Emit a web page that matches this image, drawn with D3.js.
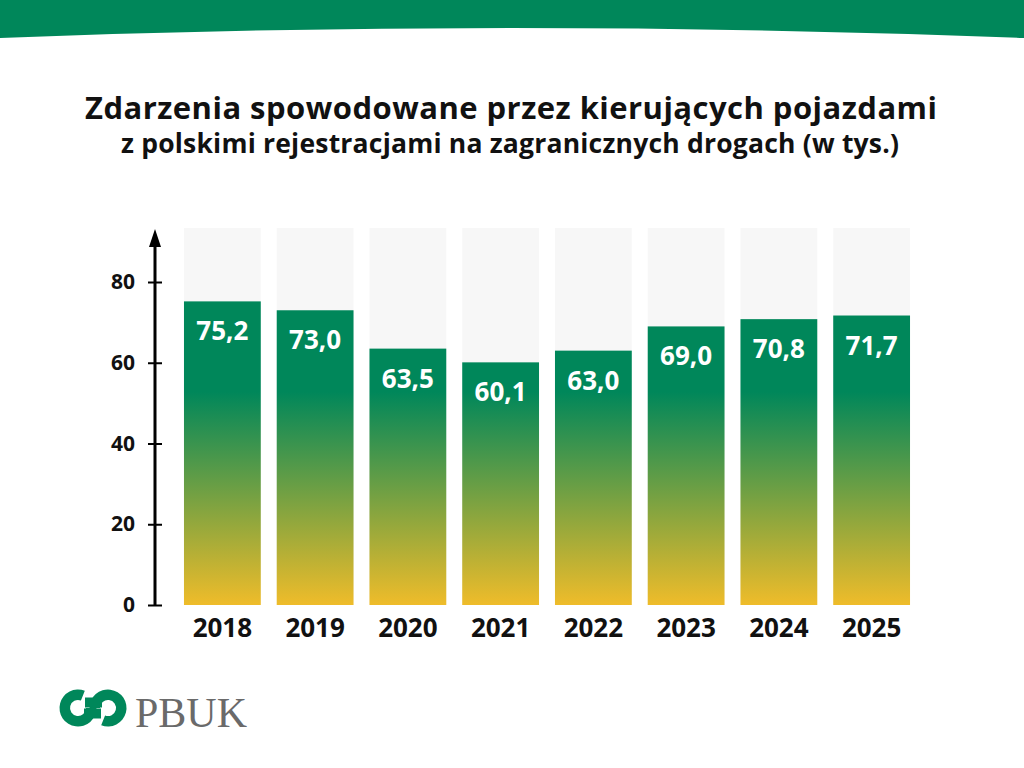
<!DOCTYPE html>
<html>
<head>
<meta charset="utf-8">
<script src="https://cdn.jsdelivr.net/npm/d3@7"></script>
<style>
  body { margin: 0; background: #fff; }
  svg { display: block; font-family: "Open Sans", sans-serif; }
</style>
</head>
<body>
<div id="chart"></div>
<script>
// Data
var years = ["2018", "2019", "2020", "2021", "2022", "2023", "2024", "2025"];
var values = [75.2, 73.0, 63.5, 60.1, 63.0, 69.0, 70.8, 71.7];
var yTicks = [0, 20, 40, 60, 80];
var title = "Zdarzenia spowodowane przez kierujących pojazdami";
var subtitle = "z polskimi rejestracjami na zagranicznych drogach (w tys.)";

var width = 1024, height = 768;
var green = "#00875a", yellow = "#efbc2a";

var svg = d3.select("#chart").append("svg")
    .attr("width", width)
    .attr("height", height);

// Gradient in page space so all bars share the same colour at the same height
var defs = svg.append("defs");
var grad = defs.append("linearGradient")
    .attr("id", "barGrad")
    .attr("gradientUnits", "userSpaceOnUse")
    .attr("x1", 0).attr("x2", 0)
    .attr("y1", 392).attr("y2", 605);
grad.append("stop").attr("offset", "0%").attr("stop-color", green);
grad.append("stop").attr("offset", "100%").attr("stop-color", yellow);

// Top banner with curved bottom edge
svg.append("path")
    .attr("d", "M0,0 H1024 V38 Q512,18 0,38 Z")
    .attr("fill", green);

// Titles
svg.append("text")
    .attr("x", 85).attr("y", 119)
    .attr("textLength", 852).attr("lengthAdjust", "spacing")
    .attr("font-size", 31).attr("font-weight", 700)
    .attr("fill", "#111")
    .text(title);

svg.append("text")
    .attr("x", 121).attr("y", 153)
    .attr("textLength", 778).attr("lengthAdjust", "spacing")
    .attr("font-size", 26.5).attr("font-weight", 700)
    .attr("fill", "#111")
    .text(subtitle);

// Scales
var x = d3.scaleBand()
    .domain(years)
    .range([176, 918])
    .paddingInner(0.172)
    .paddingOuter(0.086);

var y = d3.scaleLinear()
    .domain([0, 80])
    .range([605, 282]);

var bgTop = 93.4; // height of the pale background columns

var g = svg.append("g");

// Background columns
g.selectAll("rect.bg")
    .data(years)
    .enter().append("rect")
    .attr("class", "bg")
    .attr("x", d => x(d))
    .attr("width", x.bandwidth())
    .attr("y", y(bgTop))
    .attr("height", y(0) - y(bgTop))
    .attr("fill", "#f7f7f7");

// Bars
g.selectAll("rect.bar")
    .data(values)
    .enter().append("rect")
    .attr("class", "bar")
    .attr("x", (d, i) => x(years[i]))
    .attr("width", x.bandwidth())
    .attr("y", d => y(d))
    .attr("height", d => y(0) - y(d))
    .attr("fill", "url(#barGrad)");

// Value labels
g.selectAll("text.val")
    .data(values)
    .enter().append("text")
    .attr("class", "val")
    .attr("x", (d, i) => x(years[i]) + x.bandwidth() / 2)
    .attr("y", d => y(d) + 39)
    .attr("text-anchor", "middle")
    .attr("font-size", 26).attr("font-weight", 700)
    .attr("fill", "#fff")
    .text(d => d.toFixed(1).replace(".", ","));

// Year labels
g.selectAll("text.year")
    .data(years)
    .enter().append("text")
    .attr("class", "year")
    .attr("x", d => x(d) + x.bandwidth() / 2)
    .attr("y", 637)
    .attr("text-anchor", "middle")
    .attr("font-size", 26).attr("font-weight", 700)
    .attr("fill", "#111")
    .text(d => d);

// Y axis with arrow
var axisX = 155;
var yAxis = svg.append("g")
    .attr("transform", `translate(${axisX},0)`)
    .call(d3.axisLeft(y).tickValues(yTicks).tickSize(7).tickPadding(13));

yAxis.select(".domain").remove();
yAxis.selectAll(".tick line")
    .attr("x2", 7).attr("x1", -7)
    .attr("stroke", "#000").attr("stroke-width", 2);
yAxis.selectAll(".tick text")
    .attr("font-family", "Open Sans, sans-serif")
    .attr("font-size", 21).attr("font-weight", 700)
    .attr("fill", "#111");

svg.append("line")
    .attr("x1", axisX).attr("x2", axisX)
    .attr("y1", y(0)).attr("y2", 244)
    .attr("stroke", "#000").attr("stroke-width", 3);

svg.append("path")
    .attr("d", `M${axisX},229 L${axisX + 6},247 L${axisX - 6},247 Z`)
    .attr("fill", "#000");

// Logo: two interlocking open rings
var logo = svg.append("g");
var arc = d3.arc().innerRadius(8).outerRadius(18.5);
logo.append("path")
    .attr("transform", "translate(78,708)")
    .attr("d", arc({ startAngle: Math.PI * 0.5, endAngle: Math.PI * 2.12 }))
    .attr("fill", green);
logo.append("path")
    .attr("transform", "translate(108,708)")
    .attr("d", arc({ startAngle: Math.PI * 1.5, endAngle: Math.PI * 3.12 }))
    .attr("fill", green);
logo.append("rect")
    .attr("x", 84).attr("y", 708.5).attr("width", 17).attr("height", 10)
    .attr("fill", green);
logo.append("rect")
    .attr("x", 85).attr("y", 697.5).attr("width", 17).attr("height", 10)
    .attr("fill", green);

svg.append("text")
    .attr("x", 135).attr("y", 727)
    .attr("font-family", "Liberation Serif, serif")
    .attr("font-size", 42)
    .attr("fill", "#6a6a6a")
    .text("PBUK");
</script>
</body>
</html>
